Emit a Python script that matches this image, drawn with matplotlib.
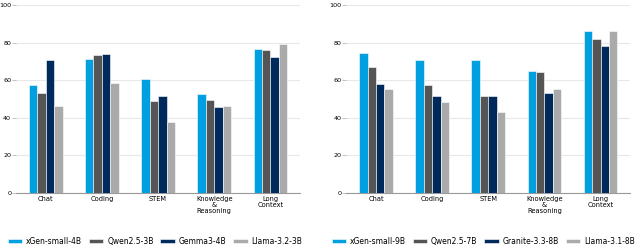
import matplotlib
matplotlib.use("Agg")
import matplotlib.pyplot as plt
import numpy as np

categories = ["Chat", "Coding", "STEM", "Knowledge\n&\nReasoning", "Long\nContext"]

# left panel: small models
models_small = ["xGen-small-4B", "Qwen2.5-3B", "Gemma3-4B", "Llama-3.2-3B"]
xgen_4b = [57.5, 71.5, 60.5, 52.5, 76.5]
qwen_3b = [53.0, 73.5, 49.0, 49.5, 76.0]
gemma_4b = [70.5, 74.0, 51.5, 45.5, 72.5]
llama_3b = [46.5, 58.5, 37.5, 46.5, 79.0]

# right panel: larger models
models_large = ["xGen-small-9B", "Qwen2.5-7B", "Granite-3.3-8B", "Llama-3.1-8B"]
xgen_9b = [74.5, 70.5, 70.5, 65.0, 86.0]
qwen_7b = [67.0, 57.5, 51.5, 64.5, 82.0]
granite_8b = [58.0, 51.5, 51.5, 53.0, 78.0]
llama_8b = [55.5, 48.5, 43.0, 55.5, 86.0]

COLORS = ["#009FE0", "#555555", "#002A5C", "#AAAAAA"]
WIDTH = 0.15


def panel(ax, series, labels):
    x = np.arange(len(categories))
    for i, (vals, lab) in enumerate(zip(series, labels)):
        ax.bar(x + (i - 1.5) * WIDTH, vals, WIDTH, color=COLORS[i],
               edgecolor="white", linewidth=0.4, label=lab, zorder=3)
    ax.set_xlim(-0.53, 4.53)
    ax.set_ylim(0, 100)
    ax.set_yticks([0, 20, 40, 60, 80, 100])
    ax.set_xticks(x)
    ax.set_xticklabels(categories, fontsize=4.8, linespacing=1.0)
    ax.tick_params(axis="y", labelsize=4.6, length=3, width=0.5,
                   color="#aaaaaa", pad=0.5)
    ax.tick_params(axis="x", length=0, pad=2)
    ax.grid(axis="y", color="#e8e8e8", linewidth=0.8, zorder=0)
    for s in ("top", "right", "left"):
        ax.spines[s].set_visible(False)
    ax.spines["bottom"].set_color("#999999")
    ax.spines["bottom"].set_linewidth(0.8)


fig = plt.figure(figsize=(6.4, 2.49), dpi=100)
ax1 = fig.add_axes([0.025, 0.225, 0.444, 0.755])
ax2 = fig.add_axes([0.541, 0.225, 0.444, 0.755])

panel(ax1, [xgen_4b, qwen_3b, gemma_4b, llama_3b], models_small)
panel(ax2, [xgen_9b, qwen_7b, granite_8b, llama_8b], models_large)

for ax, x0 in ((ax1, 0.012), (ax2, 0.518)):
    h, l = ax.get_legend_handles_labels()
    fig.legend(h, l, loc="center left", bbox_to_anchor=(x0, 0.03), ncol=4,
               frameon=False, fontsize=5.5, handlelength=1.9, handleheight=0.5,
               handletextpad=0.5, columnspacing=0.9, borderpad=0,
               borderaxespad=0)

fig.savefig("out.png", dpi=100)
